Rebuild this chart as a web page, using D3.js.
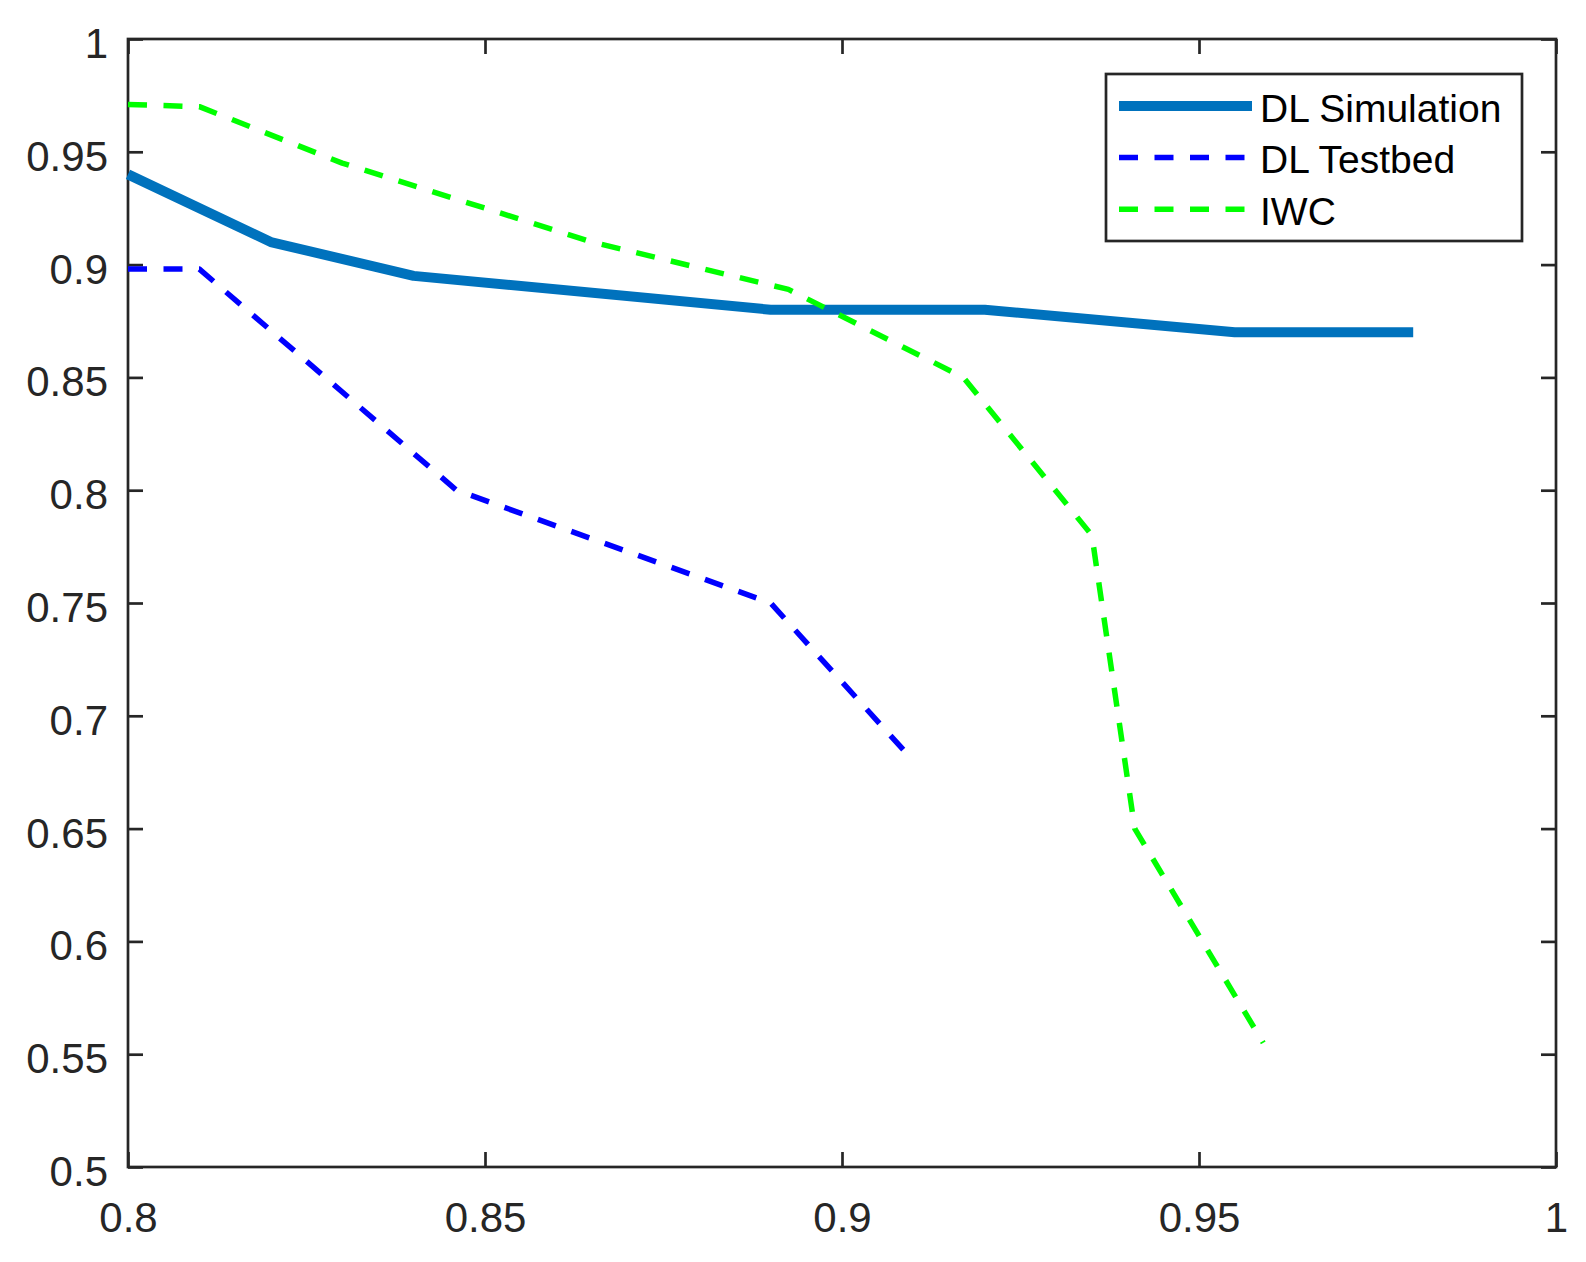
<!DOCTYPE html>
<html>
<head>
<meta charset="utf-8">
<script src="https://cdn.jsdelivr.net/npm/d3@7"></script>
<style>
  html, body { margin: 0; padding: 0; background: #ffffff; }
  svg { display: block; }
</style>
</head>
<body>
<svg id="chart" width="1586" height="1262"></svg>
<script>
// ---- Data ----
const simX = [0.80, 0.82, 0.84, 0.89, 0.92, 0.955, 0.98];
const simY = [0.94, 0.91, 0.895, 0.88, 0.88, 0.87, 0.87];

const testbedX = [0.80, 0.81, 0.846, 0.89, 0.91];
const testbedY = [0.898, 0.898, 0.80, 0.75, 0.68];

const iwcX = [0.80, 0.81, 0.83, 0.865, 0.8925, 0.917, 0.935, 0.941, 0.959];
const iwcY = [0.971, 0.970, 0.945, 0.910, 0.889, 0.850, 0.780, 0.650, 0.555];

const xTicks = [0.8, 0.85, 0.9, 0.95, 1];
const xTickLabels = ["0.8", "0.85", "0.9", "0.95", "1"];
const yTicks = [0.5, 0.55, 0.6, 0.65, 0.7, 0.75, 0.8, 0.85, 0.9, 0.95, 1];
const yTickLabels = ["0.5", "0.55", "0.6", "0.65", "0.7", "0.75", "0.8", "0.85", "0.9", "0.95", "1"];

const seriesNames = ["DL Simulation", "DL Testbed", "IWC"];

(function () {
// ---- Layout ----
const pL = 128, pR = 1556, pT = 39, pB = 1167;
const axisColor = "#262626";
const font = "'Liberation Sans', Arial, Helvetica, sans-serif";

const svg = d3.select("#chart");
svg.append("rect").attr("width", 1586).attr("height", 1262).attr("fill", "#fff");

const x = d3.scaleLinear().domain([0.8, 1]).range([pL, pR]);
const y = d3.scaleLinear().domain([0.5, 1]).range([pB, pT]);

function styleAxis(g, showLabels) {
  g.select(".domain").remove();
  g.selectAll(".tick line").attr("stroke", axisColor).attr("stroke-width", 2.7);
  g.selectAll(".tick text")
    .attr("fill", axisColor)
    .style("font-family", font)
    .style("font-size", "42px");
  if (!showLabels) g.selectAll(".tick text").remove();
}

// bottom axis
const gB = svg.append("g").attr("transform", `translate(0,${pB})`)
  .call(d3.axisBottom(x).tickValues(xTicks)
    .tickFormat((d, i) => xTickLabels[i]).tickSizeInner(-15).tickSizeOuter(0).tickPadding(0));
styleAxis(gB, true);
gB.selectAll(".tick text").attr("y", 65).attr("dy", null);

// top axis
const gT = svg.append("g").attr("transform", `translate(0,${pT})`)
  .call(d3.axisTop(x).tickValues(xTicks).tickFormat("").tickSizeInner(-15).tickSizeOuter(0));
styleAxis(gT, false);

// left axis
const gL = svg.append("g").attr("transform", `translate(${pL},0)`)
  .call(d3.axisLeft(y).tickValues(yTicks)
    .tickFormat((d, i) => yTickLabels[i]).tickSizeInner(-15).tickSizeOuter(0).tickPadding(20));
styleAxis(gL, true);
gL.selectAll(".tick text").attr("dy", null).attr("y", 18.5);

// right axis
const gR = svg.append("g").attr("transform", `translate(${pR},0)`)
  .call(d3.axisRight(y).tickValues(yTicks).tickFormat("").tickSizeInner(-15).tickSizeOuter(0));
styleAxis(gR, false);

// box
svg.append("rect")
  .attr("x", pL).attr("y", pT)
  .attr("width", pR - pL).attr("height", pB - pT)
  .attr("fill", "none").attr("stroke", axisColor).attr("stroke-width", 2.7);

// ---- Lines ----
const line = d3.line().x(d => x(d[0])).y(d => y(d[1]));

const series = [
  { name: seriesNames[0], xs: simX, ys: simY, color: "#0072BD", width: 10, dash: null },
  { name: seriesNames[1], xs: testbedX, ys: testbedY, color: "#0000FF", width: 5.5, dash: "19,16.5" },
  { name: seriesNames[2], xs: iwcX, ys: iwcY, color: "#00FF00", width: 5.5, dash: "19,16.5" }
];

series.forEach(s => {
  const pts = s.xs.map((v, i) => [v, s.ys[i]]);
  svg.append("path")
    .datum(pts)
    .attr("d", line)
    .attr("fill", "none")
    .attr("stroke", s.color)
    .attr("stroke-width", s.width)
    .attr("stroke-linejoin", "round")
    .attr("stroke-linecap", "butt")
    .attr("stroke-dasharray", s.dash);
});

// ---- Legend ----
const lg = svg.append("g");
lg.append("rect")
  .attr("x", 1106).attr("y", 74).attr("width", 416).attr("height", 167)
  .attr("fill", "#fff").attr("stroke", axisColor).attr("stroke-width", 2.7);

series.forEach((s, i) => {
  const cy = 106 + i * 51.6;
  lg.append("line")
    .attr("x1", 1119).attr("x2", 1252).attr("y1", cy).attr("y2", cy)
    .attr("stroke", s.color).attr("stroke-width", s.width)
    .attr("stroke-dasharray", s.dash);
  lg.append("text")
    .attr("x", 1260).attr("y", cy + 15.5)
    .attr("fill", "#000")
    .style("font-family", font)
    .style("font-size", "39px")
    .text(s.name);
});
})();
</script>
</body>
</html>
